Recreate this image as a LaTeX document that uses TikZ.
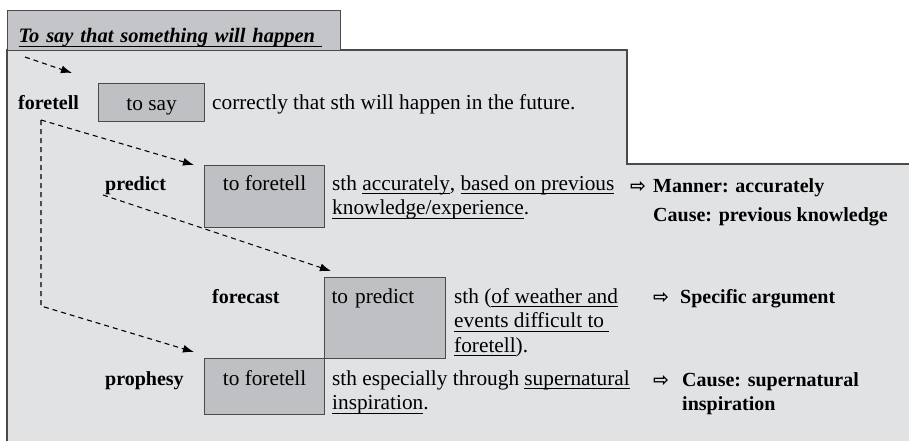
\documentclass[tikz,border=0pt]{standalone}
\usepackage{fontspec}
\setmainfont{Liberation Serif}
\newfontfamily\arrowfont{DejaVu Sans}
\usetikzlibrary{arrows.meta}

\definecolor{panelgray}{HTML}{E1E2E4}
\definecolor{boxgray}{HTML}{BFC0C3}
\definecolor{headgray}{HTML}{C4C5C8}
\definecolor{edgegray}{HTML}{4A4A4A}

\newsavebox\ulbox
\newcommand\uln[1]{\sbox\ulbox{#1}\rlap{\rule[-4pt]{\wd\ulbox}{0.9pt}}\usebox\ulbox}
\newcommand\glosslines[1]{\begin{tabular}[t]{@{}l@{}}#1\end{tabular}}

\begin{document}
\begin{tikzpicture}[
    x=1pt, y=-1pt,
    font=\fontsize{21.3}{24.5}\selectfont,
    frame/.style={draw=edgegray,line width=1.1pt},
    defbox/.style={frame,fill=boxgray,inner sep=0pt,anchor=north west,text height=25pt},
    headword/.style={anchor=base west,inner sep=0pt,font={\fontsize{20}{24}\selectfont\bfseries}},
    gloss/.style={anchor=base west,inner sep=0pt},
    sem/.style={anchor=base west,inner sep=0pt,font={\fontsize{20}{24}\selectfont\bfseries}},
    hint/.style={anchor=base west,inner sep=0pt,font={\fontsize{19}{20}\selectfont\arrowfont\bfseries}},
    dasharrow/.style={-{Latex[length=11pt,width=8pt]},line width=1.1pt,dash pattern=on 5pt off 4pt}
]
\useasboundingbox (0,0) rectangle (909,441);

% panel and topic tab
\fill[white] (0,0) rectangle (909,441);
\fill[panelgray] (7,50) -- (627,50) -- (627,164) -- (909,164) -- (909,441) -- (7,441) -- cycle;
\draw[frame] (7,441) -- (7,50) -- (627,50) -- (627,164) -- (909,164);
\node[frame,fill=headgray,anchor=north west,inner sep=0pt,inner xsep=11pt,
      text width=311pt,align=left,text height=32pt,text depth=8pt,
      font={\fontsize{20.5}{24}\selectfont}] (topic) at (7,10)
     {\bfseries\itshape\uln{To say that something will happen\ }};

% foretell
\node[headword] (foretell) at (18,110) {foretell};
\node[defbox,minimum width=106pt,text height=27pt,text depth=11pt] (tosay) at (98,83) {to say};
\node[gloss] (foretellgloss) at (212,110) {correctly that sth will happen in the future.};

% predict
\node[headword] (predict) at (105,190) {predict};
\node[defbox,minimum width=120pt,text depth=37pt] (predbox) at (204,165) {to foretell};
\node[gloss] (predgloss) at (332,190) {\glosslines{sth \uln{accurately}, \uln{based on previous}\\ \uln{knowledge/experience}.}};
\node[hint] (predhint) at (630,192) {⇨};
\node[sem] (predsem) at (653,192) {\glosslines{Manner: accurately\\[5.5pt] Cause: previous knowledge}};

% forecast
\node[headword] (forecast) at (212,303) {forecast};
\node[defbox,text width=107pt,inner xsep=7pt,align=left,text height=26pt,text depth=55pt] (forebox) at (324,277) {to predict};
\node[gloss] (foregloss) at (454,303) {\glosslines{sth (\uln{of weather and}\\ \uln{events difficult to\ }\\ \uln{foretell}).}};
\node[hint] (forehint) at (653,303) {⇨};
\node[sem] (foresem) at (680,303) {Specific argument};

% prophesy
\node[headword] (prophesy) at (105,385) {prophesy};
\node[defbox,minimum width=120pt,text height=27pt,text depth=29pt] (prophbox) at (204,358) {to foretell};
\node[gloss] (prophgloss) at (332,385) {\glosslines{sth especially through \uln{supernatural}\\ \uln{inspiration}.}};
\node[hint] (prophhint) at (653,386) {⇨};
\node[sem] (prophsem) at (682,386) {\glosslines{Cause: supernatural\\ inspiration}};

% dashed links
\coordinate (topictail) at (25,57);
\coordinate (topichead) at (72,73);
\coordinate (fork) at (41,120);
\coordinate (forkbend) at (41,306);
\coordinate (predtail) at (103,195);
\draw[dasharrow] (topictail) -- (topichead);
\draw[dasharrow] (fork) -- ([xshift=-10pt]predbox.north west);
\draw[dasharrow] (fork) -- (forkbend) -- ([xshift=-10pt,yshift=6pt]prophbox.north west);
\draw[dasharrow] (predtail) -- ([xshift=7pt,yshift=6pt]forebox.north west);

\end{tikzpicture}
\end{document}
